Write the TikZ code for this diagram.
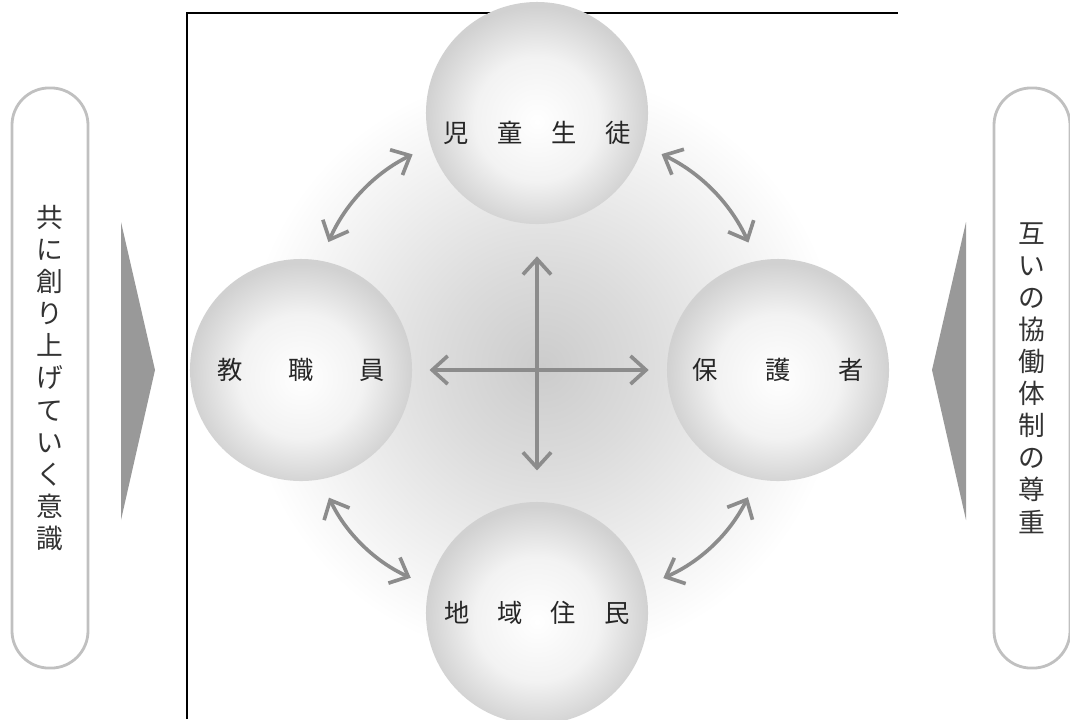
\documentclass[tikz,border=0pt]{standalone}
\usepackage{fontspec}
\setmainfont{Noto Sans CJK JP}
\usepackage{xcolor}
\usetikzlibrary{arrows.meta, positioning}

\definecolor{arrgray}{RGB}{140,140,140}
\definecolor{boxgray}{RGB}{192,192,192}
\definecolor{trigray}{RGB}{153,153,153}
\pgfdeclareradialshading{glow}{\pgfpoint{0bp}{0bp}}{color(0bp)=(black!20); color(7bp)=(black!14); color(21bp)=(white); color(50bp)=(white)}
\pgfdeclareradialshading{sphere}{\pgfpoint{0bp}{-2bp}}{color(0bp)=(white); color(14bp)=(black!5); color(25bp)=(black!18); color(50bp)=(black!18)}

\tikzset{
    ball/.style={circle, minimum size=5.55cm, inner sep=0pt, shading=sphere,
        font=\fontsize{18}{21}\selectfont, text=black!85},
    dbl/.style={{Straight Barb[length=11pt,width=20pt]}-{Straight Barb[length=11pt,width=20pt]},
        draw=arrgray, line width=2.6pt},
    sidebox/.style={draw=boxgray, line width=2pt, rounded corners=0.93cm,
        minimum width=1.9cm, minimum height=14.5cm, align=center,
        font=\fontsize{19}{22.8}\selectfont, text=black!80}
}

\begin{document}
\begin{tikzpicture}[x=0.025cm, y=-0.025cm]
    \useasboundingbox (0,0) rectangle (1070,719);

    % 枠と背景
    \fill[shading=glow] (187,13) rectangle (898,719);
    \draw[line width=1.4pt] (187,719) -- (187,13) -- (898,13);

    % 四つの円
    \node[ball, label={[font=\fontsize{18}{21}\selectfont, text=black!85, yshift=-0.5cm]center:児\hspace{0.72cm}童\hspace{0.72cm}生\hspace{0.72cm}徒}] (jido) at (537,113) {};
    \node[ball] (kyo) at (301,370) {教\hspace{1.15cm}職\hspace{1.15cm}員};
    \node[ball] (hogo) at (778,370) {保\hspace{1.2cm}護\hspace{1.2cm}者};
    \node[ball] (chiiki) at (537,613) {地\hspace{0.7cm}域\hspace{0.7cm}住\hspace{0.7cm}民};

    % 中央の矢印
    \draw[dbl, shorten <=0.8cm, shorten >=0.78cm] (jido.south) -- (chiiki.north);
    \draw[dbl, shorten <=0.43cm, shorten >=0.45cm] (kyo.east) -- (hogo.west);

    % 斜めの矢印
    \draw[dbl, shorten <=0.5cm, shorten >=0.5cm] (kyo.80) to[bend left=20] (jido.197);
    \draw[dbl, shorten <=0.5cm, shorten >=0.5cm] (jido.-17) to[bend left=20] (hogo.101);
    \draw[dbl, shorten <=0.5cm, shorten >=0.5cm] (hogo.259) to[bend left=20] (chiiki.14);
    \draw[dbl, shorten <=0.5cm, shorten >=0.5cm] (chiiki.166) to[bend left=20] (kyo.280);

    % 左右の枠
    \node[sidebox] (tomoni) at (50,378) {共\\に\\創\\り\\上\\げ\\て\\い\\く\\意\\識};
    \node[sidebox] (tagai) at (1032,378) {互\\い\\の\\協\\働\\体\\制\\の\\尊\\重};

    % 三角形
    \fill[trigray] (121,222) -- (155,370) -- (121,520) -- cycle;
    \fill[trigray] (966,222) -- (932,370) -- (966,520) -- cycle;
\end{tikzpicture}
\end{document}
